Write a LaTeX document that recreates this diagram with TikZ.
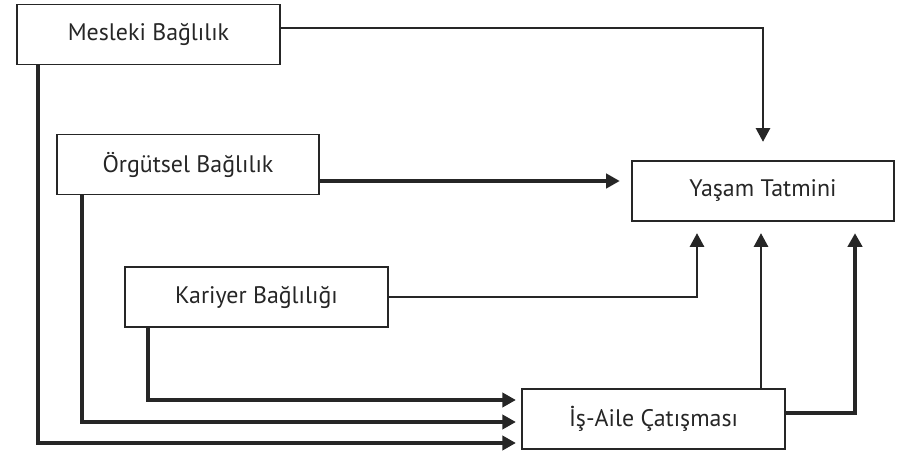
\documentclass[tikz,border=0pt]{standalone}
\usepackage{fontspec}
\setmainfont{PT Sans}
\usetikzlibrary{arrows.meta}

\begin{document}
\begin{tikzpicture}[x=0.025cm,y=-0.025cm,
  box/.style={draw=black!85,line width=1.4pt,fill=white,text=black!85,
    minimum width=6.55cm,minimum height=1.5cm,font=\fontsize{17}{20}\selectfont},
  thinline/.style={black!85,line width=0.9pt,-{Triangle[length=0.34cm,width=0.36cm]}},
  thickline/.style={black!85,line width=2.2pt,-{Triangle[length=0.34cm,width=0.36cm]}}]
  \useasboundingbox (0,0) rectangle (901,451);
  % boxes
  \node[box] (mesleki) at (148.5,34.5) {Mesleki Bağlılık};
  \node[box] (orgutsel) at (188,164.5) {Örgütsel Bağlılık};
  \node[box] (kariyer) at (256.5,297) {Kariyer Bağlılığı};
  \node[box] (isaile) at (653.5,419) {İş-Aile Çatışması};
  \node[box] (yasam) at (763,191) {Yaşam Tatmini};
  % to life satisfaction
  \draw[thinline,shorten >=13pt] (mesleki.east |- 0,28) -| (yasam.north);
  \draw[thickline,shorten >=8pt] (orgutsel.east |- 0,181) -- (yasam.west |- 0,181);
  \draw[thinline,shorten >=8pt] (kariyer.east) -| (yasam.south -| 697,0);
  \draw[thinline,shorten >=8pt] (isaile.north -| 761,0) -- (yasam.south -| 761,0);
  \draw[thickline,shorten >=8pt] (isaile.east |- 0,413) -| (yasam.south -| 855,0);
  % to work-family conflict
  \draw[thickline,shorten >=4pt] (kariyer.south -| 148,0) |- (isaile.west |- 0,400);
  \draw[thickline,shorten >=4pt] (orgutsel.south -| 82,0) |- (isaile.west |- 0,422);
  \draw[thickline,shorten >=4pt] (mesleki.south -| 38,0) |- (isaile.west |- 0,443);
\end{tikzpicture}
\end{document}
